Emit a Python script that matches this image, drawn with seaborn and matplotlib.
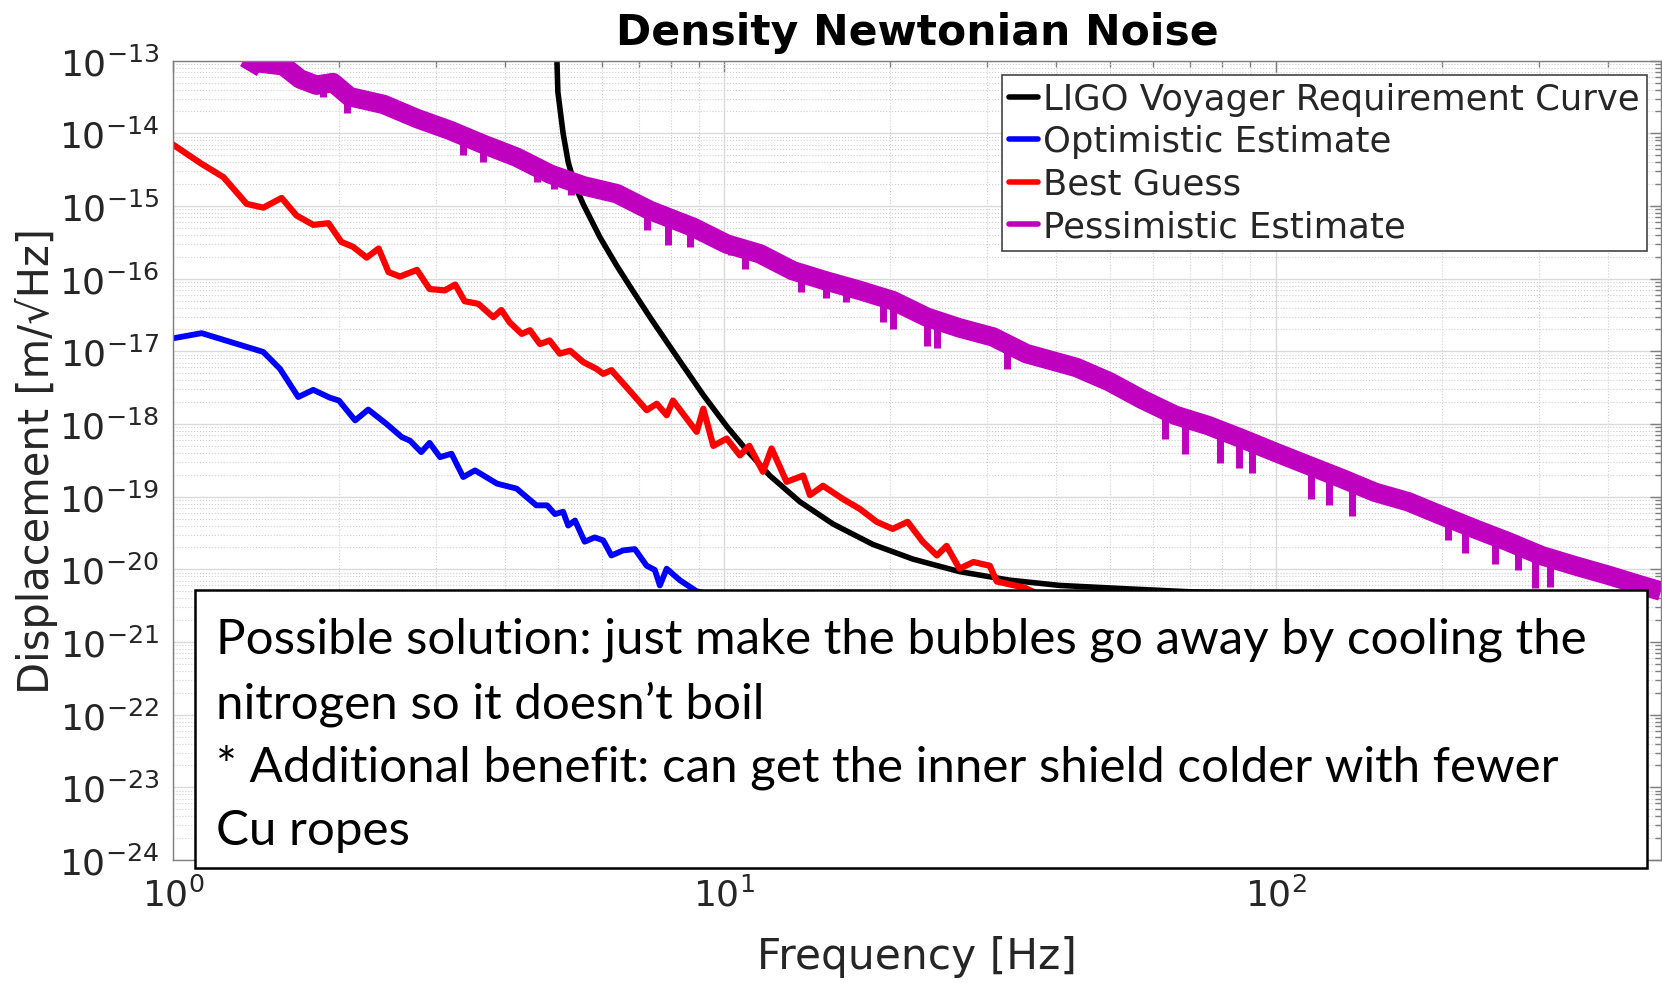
import matplotlib
matplotlib.use("Agg")
import matplotlib.pyplot as plt
from matplotlib.lines import Line2D
from matplotlib.patches import Rectangle
from matplotlib.ticker import LogLocator, NullFormatter
import numpy as np
import seaborn as sns

# ------------------------------------
# Data
# ------------------------------------

voyager_freq = [4.96, 4.97, 4.99, 5.05, 5.10, 5.21, 5.36, 5.55, 5.95, 6.38,
                6.84, 7.33, 7.91, 8.30, 9.16, 10.1, 10.97, 12.09, 13.71, 15.75,
                18.6, 22.0, 26.7, 32.9, 40.6, 53.5, 70, 100, 200, 400]
voyager_disp = [3.2e-13, 1.0e-13, 3.7e-14, 1.8e-14, 1.0e-14, 4.0e-15, 1.9e-15, 1.05e-15, 3.7e-16, 1.51e-16,
                6.6e-17, 2.95e-17, 1.26e-17, 7.4e-18, 2.5e-18, 9.3e-19, 4.4e-19, 1.95e-19, 8.5e-20, 4.2e-20,
                2.2e-20, 1.38e-20, 9.3e-21, 7.1e-21, 6.0e-21, 5.4e-21, 4.9e-21, 4.6e-21, 4.4e-21, 4.4e-21]

optimistic_freq = [1.0, 1.127, 1.458, 1.563, 1.687, 1.796, 1.926, 2.0, 2.14, 2.26,
                   2.44, 2.60, 2.69, 2.82, 2.92, 3.05, 3.20, 3.36, 3.53, 3.87,
                   4.2, 4.56, 4.77, 4.93, 5.1, 5.21, 5.36, 5.58, 5.82, 6.03,
                   6.24, 6.55, 6.88, 7.23, 7.48, 7.64, 7.86, 8.3, 8.9, 10,
                   20, 50, 100, 400]
optimistic_disp = [1.51e-17, 1.78e-17, 9.8e-18, 5.75e-18, 2.35e-18, 2.95e-18, 2.3e-18, 2.1e-18, 1.12e-18, 1.58e-18,
                   1.0e-18, 6.6e-19, 5.9e-19, 4.1e-19, 5.5e-19, 3.5e-19, 3.9e-19, 1.86e-19, 2.3e-19, 1.51e-19,
                   1.29e-19, 7.6e-20, 7.6e-20, 5.75e-20, 6.2e-20, 4.0e-20, 4.7e-20, 2.4e-20, 2.75e-20, 2.5e-20,
                   1.55e-20, 1.82e-20, 1.9e-20, 1.12e-20, 9.8e-21, 6.0e-21, 1.02e-20, 7.1e-21, 5.0e-21, 4.0e-21,
                   1.0e-21, 1.6e-22, 4.0e-23, 6.0e-24]

best_freq = [1.0, 1.127, 1.234, 1.36, 1.458, 1.574, 1.675, 1.796, 1.914, 2.02,
             2.12, 2.245, 2.36, 2.46, 2.58, 2.77, 2.92, 3.11, 3.25, 3.38,
             3.58, 3.81, 3.94, 4.08, 4.29, 4.44, 4.63, 4.82, 5.03, 5.25,
             5.55, 5.86, 6.03, 6.24, 6.65, 7.23, 7.54, 7.86, 8.07, 8.91,
             9.16, 9.55, 10.1, 10.67, 11.1, 11.75, 12.18, 12.97, 13.9, 14.3,
             15.1, 16.4, 17.6, 18.9, 20.2, 21.5, 22.9, 24.3, 25.3, 26.7,
             28.3, 30.3, 31.2, 35, 40, 60, 100, 200, 400]
best_disp = [7.0e-15, 3.8e-15, 2.5e-15, 1.07e-15, 9.5e-16, 1.29e-15, 7.4e-16, 5.5e-16, 5.8e-16, 3.2e-16,
             2.75e-16, 1.95e-16, 2.6e-16, 1.23e-16, 1.07e-16, 1.32e-16, 7.2e-17, 6.9e-17, 8.3e-17, 4.9e-17,
             4.5e-17, 2.95e-17, 3.7e-17, 2.5e-17, 1.74e-17, 1.95e-17, 1.26e-17, 1.41e-17, 9.3e-18, 1.02e-17,
             7.1e-18, 5.75e-18, 4.9e-18, 5.5e-18, 3.2e-18, 1.55e-18, 1.9e-18, 1.32e-18, 2.1e-18, 7.8e-19,
             1.62e-18, 5.0e-19, 6.3e-19, 3.7e-19, 5.0e-19, 2.2e-19, 4.6e-19, 1.6e-19, 1.95e-19, 1.05e-19,
             1.41e-19, 9.3e-20, 6.8e-20, 4.5e-20, 3.6e-20, 4.5e-20, 2.4e-20, 1.55e-20, 2.1e-20, 1.02e-20,
             1.26e-20, 1.12e-20, 6.8e-21, 5.6e-21, 3.5e-21, 1.6e-21, 5.0e-22, 1.26e-22, 3.0e-23]

pessimistic_freq = [1.37, 1.40, 1.585, 1.70, 1.82, 1.95, 2.09, 2.41, 2.77, 3.18,
                    3.65, 4.2, 4.83, 5.55, 6.38, 7.33, 8.78, 10.1, 11.6, 13.3,
                    15.3, 17.6, 20.2, 23.3, 26.7, 30.7, 35.3, 43.5, 50, 57.1,
                    65.7, 75.5, 86.8, 99.7, 114.6, 131.8, 151.4, 174, 200, 229.8,
                    264, 303, 349, 401, 461, 500]
pessimistic_disp = [7.2e-14, 9.5e-14, 8.5e-14, 5.6e-14, 4.6e-14, 5.0e-14, 3.2e-14, 2.5e-14, 1.6e-14, 1.1e-14,
                    7.1e-15, 4.7e-15, 2.75e-15, 1.9e-15, 1.48e-15, 8.7e-16, 5.1e-16, 3.0e-16, 2.2e-16, 1.29e-16,
                    9.3e-17, 6.9e-17, 5.0e-17, 2.95e-17, 2.1e-17, 1.58e-17, 9.3e-18, 6.0e-18, 3.8e-18, 2.2e-18,
                    1.32e-18, 9.5e-19, 6.3e-19, 4.1e-19, 2.7e-19, 1.78e-19, 1.15e-19, 8.5e-20, 5.5e-20, 3.6e-20,
                    2.4e-20, 1.55e-20, 1.12e-20, 8.3e-21, 6.0e-21, 5.0e-21]

# downward spikes of the noisy pessimistic trace
spike_freq = [1.87, 2.07, 2.28, 3.36, 3.65, 4.57, 4.9, 5.26, 7.23, 7.91,
              8.66, 10.3, 10.9, 13.8, 15.3, 16.6, 19.4, 20.2, 23.3, 24.3,
              32.5, 63.1, 68.6, 79.4, 85.8, 90.6, 116, 124.7, 137.5, 205.6,
              220.3, 249.8, 275.6, 295, 314]
spike_top = [4.4e-14, 3.4e-14, 2.75e-14, 9.3e-15, 7.1e-15, 3.4e-15, 2.6e-15, 2.2e-15, 9.1e-16, 7.2e-16,
             5.4e-16, 2.9e-16, 2.6e-16, 1.17e-16, 9.3e-17, 7.8e-17, 5.5e-17, 5.0e-17, 2.95e-17, 2.7e-17,
             1.26e-17, 1.51e-18, 1.17e-18, 8.3e-19, 6.6e-19, 5.5e-19, 2.6e-19, 2.15e-19, 1.55e-19, 5.0e-20,
             4.1e-20, 2.8e-20, 2.1e-20, 1.7e-20, 1.45e-20]
spike_bottom = [3.2e-14, 1.9e-14, 2.2e-14, 5.0e-15, 4.0e-15, 2.15e-15, 1.74e-15, 1.41e-15, 4.7e-16, 2.9e-16,
                2.75e-16, 2.1e-16, 1.38e-16, 6.6e-17, 5.4e-17, 4.8e-17, 2.5e-17, 2.05e-17, 1.2e-17, 1.1e-17,
                5.75e-18, 6.3e-19, 3.9e-19, 2.9e-19, 2.45e-19, 2.1e-19, 9.3e-20, 7.6e-20, 5.5e-20, 2.5e-20,
                1.66e-20, 1.2e-20, 9.8e-21, 5.5e-21, 5.75e-21]

series_labels = ["LIGO Voyager Requirement Curve", "Optimistic Estimate",
                 "Best Guess", "Pessimistic Estimate"]
series_colors = ["black", "#0000ff", "#ff0000", "#bf00bf"]

x_ticks = [1, 10, 100]
y_ticks = [1e-24, 1e-23, 1e-22, 1e-21, 1e-20, 1e-19,
           1e-18, 1e-17, 1e-16, 1e-15, 1e-14, 1e-13]

note_lines = [
    "Possible solution: just make the bubbles go away by cooling the",
    "nitrogen so it doesn\u2019t boil",
    "* Additional benefit: can get the inner shield colder with fewer",
    "Cu ropes",
]

# ------------------------------------
# Figure
# ------------------------------------

sns.set_style("white")
plt.rcParams["font.family"] = ["DejaVu Sans"]

fig, ax = plt.subplots(figsize=(16.62, 9.87), dpi=100)
fig.subplots_adjust(left=0.1041, right=0.9994, bottom=0.1277, top=0.9375)

ax.set_xscale("log")
ax.set_yscale("log")

sns.lineplot(x=voyager_freq, y=voyager_disp, ax=ax, color=series_colors[0],
             linewidth=4.0, sort=False, estimator=None)
sns.lineplot(x=optimistic_freq, y=optimistic_disp, ax=ax, color=series_colors[1],
             linewidth=4.2, sort=False, estimator=None)
sns.lineplot(x=best_freq, y=best_disp, ax=ax, color=series_colors[2],
             linewidth=4.5, sort=False, estimator=None)
sns.lineplot(x=pessimistic_freq, y=pessimistic_disp, ax=ax, color=series_colors[3],
             linewidth=14, sort=False, estimator=None, solid_capstyle="butt")
ax.vlines(spike_freq, spike_bottom, spike_top, color=series_colors[3],
          linewidth=5)

ax.set_xticks(x_ticks)
ax.set_yticks(y_ticks)
ax.xaxis.set_minor_locator(LogLocator(base=10, subs=np.arange(2, 10), numticks=20))
ax.yaxis.set_minor_locator(LogLocator(base=10, subs=np.arange(2, 10), numticks=20))
ax.xaxis.set_minor_formatter(NullFormatter())
ax.yaxis.set_minor_formatter(NullFormatter())
ax.set_xlim(1, 500)
ax.set_ylim(1e-24, 1e-13)

ax.set_axisbelow(True)
ax.grid(which="major", color="#dadada", linestyle="-", linewidth=1)
ax.grid(which="minor", color="#cfcfcf", linestyle=":", linewidth=0.8)

ax.tick_params(which="both", direction="in", top=True, right=True,
               color="#7f7f7f", labelcolor="#262626", labelsize=26)
ax.tick_params(which="major", length=8, width=1)
ax.tick_params(which="minor", length=4.5, width=1)
ax.tick_params(axis="x", pad=12)
ax.tick_params(axis="y", pad=10)

for spine in ax.spines.values():
    spine.set_color("#7f7f7f")
    spine.set_linewidth(1)

ax.set_title("Density Newtonian Noise", fontsize=30.6, fontweight="bold",
             color="black", pad=12)
ax.set_xlabel("Frequency [Hz]", fontsize=30.5, color="#262626", labelpad=16)
ax.set_ylabel("Displacement [m/\u221aHz]", fontsize=30, color="#262626", labelpad=1)

handles = [Line2D([], [], color=c, linewidth=4) for c in series_colors]
leg = ax.legend(handles, series_labels, loc="upper right", fontsize=25.5,
                frameon=True, fancybox=False, framealpha=1,
                edgecolor="#444444", borderpad=0.2, labelspacing=0.24,
                handlelength=0.8, handletextpad=0.15, borderaxespad=0.4)
leg.get_frame().set_linewidth(1.2)

# ------------------------------------
# Note box over the lower part
# ------------------------------------

note_box = Rectangle((0.1173, 0.1196), 0.8736, 0.2817,
                     transform=fig.transFigure, facecolor="white",
                     edgecolor="black", linewidth=1.8, zorder=10)
fig.add_artist(note_box)

note_y = [0.3374, 0.2725, 0.2087, 0.1439]
for line, y in zip(note_lines, note_y):
    fig.text(0.13, y, line, fontsize=35.5, family="Lato", color="black",
             ha="left", va="baseline", zorder=11)

fig.savefig("out.png", dpi=100)
plt.close(fig)
